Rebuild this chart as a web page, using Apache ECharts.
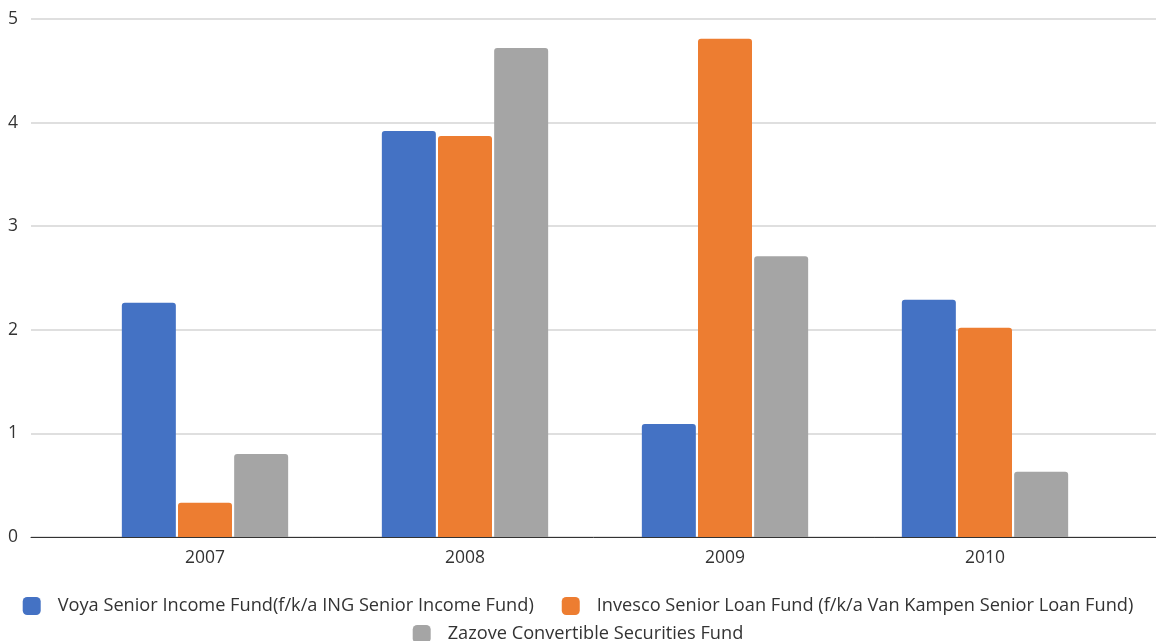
<!DOCTYPE html>
<html>
<head>
<meta charset="utf-8">
<title>Funds by year</title>
<script src="https://cdn.jsdelivr.net/npm/echarts@6/dist/echarts.min.js"></script>
<style>
  html, body { margin: 0; padding: 0; background: #fff; }
  #chart { width: 1156px; height: 641px; }
</style>
</head>
<body>
<div id="chart"></div>
<script>
/***** data *****/
var years = ['2007', '2008', '2009', '2010'];
var voya = [2.26, 3.92, 1.09, 2.29];
var invesco = [0.33, 3.87, 4.81, 2.02];
var zazove = [0.80, 4.72, 2.71, 0.63];
var yTicks = [0, 1, 2, 3, 4, 5];

var nameVoya = 'Voya Senior Income Fund(f/k/a ING Senior Income Fund)';
var nameInvesco = 'Invesco Senior Loan Fund (f/k/a Van Kampen Senior Loan Fund)';
var nameZazove = 'Zazove Convertible Securities Fund';

var font = '"Open Sans", "Noto Sans", sans-serif';
var txtColor = '#333';

var myChart = echarts.init(document.getElementById('chart'));

var barStyle = function (c) {
	return { color: c, borderRadius: [3, 3, 0, 0] };
};

var legendText = { fontFamily: font, fontSize: 18.2, color: txtColor, padding: [0, 0, 0, 12] };

var option = {
	backgroundColor: '#fff',
	animation: false,
	textStyle: { fontFamily: font },
	// grid 0 = bars, grid 1 = full width lines + y labels
	grid: [
		{ left: 75, right: 41, top: 19, bottom: 104 },
		{ left: 31, right: 0, top: 19, bottom: 104 }
	],
	legend: [
		{
			data: [nameVoya, nameInvesco],
			top: 592, left: 'center',
			itemWidth: 18, itemHeight: 18, itemGap: 28,
			icon: 'roundRect',
			textStyle: legendText
		},
		{
			data: [nameZazove],
			top: 620, left: 'center',
			itemWidth: 18, itemHeight: 18,
			icon: 'roundRect',
			textStyle: legendText
		}
	],
	xAxis: [
		{
			gridIndex: 0, type: 'category', data: years,
			axisLine: { show: false }, axisTick: { show: false },
			axisLabel: { fontFamily: font, fontSize: 17.5, color: txtColor, margin: 12 }
		},
		{
			gridIndex: 1, type: 'value', min: 0, max: 1,
			axisLine: { show: true, lineStyle: { color: '#333', width: 1 } },
			axisTick: { show: false }, axisLabel: { show: false }, splitLine: { show: false }
		}
	],
	yAxis: [
		{
			gridIndex: 0, type: 'value', min: yTicks[0], max: yTicks[yTicks.length - 1], interval: 1,
			axisLine: { show: false }, axisTick: { show: false },
			axisLabel: { show: false }, splitLine: { show: false }
		},
		{
			gridIndex: 1, type: 'value', min: yTicks[0], max: yTicks[yTicks.length - 1], interval: 1,
			axisLine: { show: false }, axisTick: { show: false },
			axisLabel: { fontFamily: font, fontSize: 17.5, color: txtColor, margin: 13 },
			splitLine: { show: true, lineStyle: { color: '#d4d4d4', width: 1.5 } }
		}
	],
	series: [
		{ name: nameVoya, type: 'bar', data: voya, barWidth: 54, barGap: '4%', itemStyle: barStyle('#4472C4') },
		{ name: nameInvesco, type: 'bar', data: invesco, barWidth: 54, barGap: '4%', itemStyle: barStyle('#ED7D31') },
		{ name: nameZazove, type: 'bar', data: zazove, barWidth: 54, barGap: '4%', itemStyle: barStyle('#A5A5A5') }
	]
};

myChart.setOption(option);
</script>
</body>
</html>
